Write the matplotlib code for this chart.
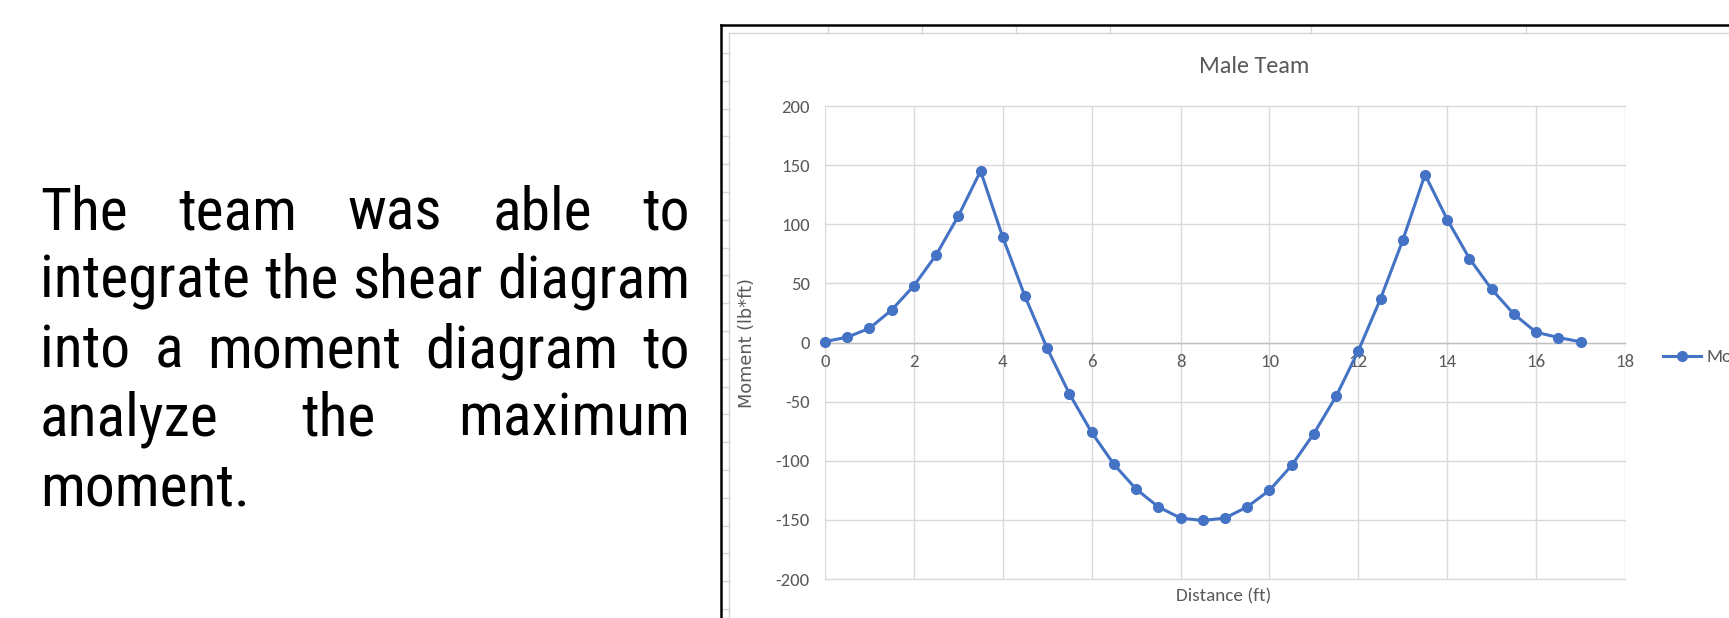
import os
import matplotlib
matplotlib.use("Agg")
import matplotlib.pyplot as plt
from matplotlib import font_manager
from matplotlib.font_manager import FontProperties
from matplotlib.lines import Line2D

# ---------------- data ----------------
distance_ft = [0, 0.5, 1, 1.5, 2, 2.5, 3, 3.5, 4, 4.5, 5, 5.5, 6, 6.5, 7, 7.5, 8, 8.5,
               9, 9.5, 10, 10.5, 11, 11.5, 12, 12.5, 13, 13.5, 14, 14.5, 15, 15.5, 16, 16.5, 17]
moment_lbft = [0.8, 4.5, 12, 27.5, 48, 74, 107, 145, 89, 39, -5, -43.5, -76, -103, -124,
               -139, -148.5, -150.5, -148.5, -139, -125, -104, -77, -45.5, -7, 37, 86.5,
               142, 104, 71, 45, 24, 8.7, 4.2, 0.6]
x_ticks = [0, 2, 4, 6, 8, 10, 12, 14, 16, 18]
y_ticks = [-200, -150, -100, -50, 0, 50, 100, 150, 200]
chart_title = "Male Team"
x_label = "Distance (ft)"
y_label = "Moment (lb*ft)"
series_name = "Moment"
paragraph_lines = ["The team was able to",
                   "integrate the shear diagram",
                   "into a moment diagram to",
                   "analyze the maximum",
                   "moment."]

plt.rcParams["axes.unicode_minus"] = False

# ---------------- fonts ----------------
names = {f.name for f in font_manager.fontManager.ttflist}
calib = "Carlito" if "Carlito" in names else ("Lato" if "Lato" in names else "DejaVu Sans")

BAD = ("bold", "italic", "light", "thin", "medium", "black", "oblique", "semibold",
       "extrabold", "heavy", "extralight")


def find_condensed():
    entries = font_manager.fontManager.ttflist
    prefs = [
        lambda f: f.name == "Liberation Sans Narrow",
        lambda f: f.name == "Arial Narrow",
        lambda f: f.name == "Roboto Condensed",
        lambda f: "robotocondensed" in os.path.basename(f.fname).lower(),
        lambda f: os.path.basename(f.fname).lower().startswith("notosans-condensed"),
        lambda f: os.path.basename(f.fname).lower().startswith("notosans-semicondensed"),
        lambda f: "dejavusanscondensed" in os.path.basename(f.fname).lower(),
    ]
    for p in prefs:
        for f in entries:
            base = os.path.basename(f.fname).lower()
            stem = base.rsplit(".", 1)[0]
            tail = stem.split("-")[-1] if "-" in stem else ""
            if any(b in tail for b in BAD) or f.weight not in (400, "normal", "regular"):
                continue
            if f.style != "normal":
                continue
            try:
                if p(f):
                    return FontProperties(fname=f.fname)
            except Exception:
                pass
    return FontProperties(family="Liberation Sans")


para_fp = find_condensed()

W, H = 1729, 618
fig = plt.figure(figsize=(W / 100, H / 100), dpi=100)
fig.patch.set_facecolor("white")


def px(x):
    return x / W


def py(y):
    return 1 - y / H


GREY_TXT = "#595959"

# ---------------- chart ----------------
L, R, T, B = 825, 1625, 106, 579
ax = fig.add_axes([px(L), py(B), (R - L) / W, (B - T) / H])
ax.set_xlim(x_ticks[0], x_ticks[-1])
ax.set_ylim(y_ticks[0], y_ticks[-1])
ax.set_xticks(x_ticks)
ax.set_yticks(y_ticks)
ax.grid(True, color="#D9D9D9", lw=1.0)
ax.set_axisbelow(True)
for g in ax.get_xgridlines() + ax.get_ygridlines():
    g.set_clip_on(False)
for s in ["top", "right", "left"]:
    ax.spines[s].set_visible(False)
ax.spines["bottom"].set_position(("data", 0))
ax.spines["bottom"].set_color("#BFBFBF")
ax.spines["bottom"].set_linewidth(1.0)
ax.tick_params(length=0, labelsize=13.5, labelcolor=GREY_TXT)
ax.tick_params(axis="x", pad=8.5)
ax.tick_params(axis="y", pad=11)
for lab in ax.get_xticklabels() + ax.get_yticklabels():
    lab.set_family(calib)

line, = ax.plot(distance_ft, moment_lbft, color="#4472C4", lw=2.2, marker="o",
                ms=7, label=series_name, zorder=3, clip_on=False)

fig.text(px(1254), py(73), chart_title, ha="center", va="baseline", fontsize=17.5,
         color=GREY_TXT, family=calib)
fig.text(px(1224), py(601), x_label, ha="center", va="baseline", fontsize=13.8,
         color=GREY_TXT, family=calib)
fig.text(px(747), py(342.5), y_label, ha="center", va="center", rotation=90,
         fontsize=12.8, color=GREY_TXT, family="DejaVu Sans")

fig.legend(handles=[line], labels=[series_name], loc="center left",
           bbox_to_anchor=(px(1663), py(357)), frameon=False, borderpad=0,
           borderaxespad=0, handlelength=2.0, handletextpad=0.3,
           prop={"family": calib, "size": 13.5}, labelcolor=GREY_TXT)

# ---------------- frame / sheet lines ----------------
sheet = "#D6D6D6"
fig.add_artist(Line2D([px(729), px(729)], [py(33), 0], color=sheet, lw=1.0))
fig.add_artist(Line2D([px(729), 1], [py(33), py(33)], color=sheet, lw=1.0))
for cx in [828, 922, 1016, 1110, 1311, 1526]:
    fig.add_artist(Line2D([px(cx), px(cx)], [py(25), py(33)], color=sheet, lw=1.0))
ry = 53.0
while ry < H:
    fig.add_artist(Line2D([px(721), px(729)], [py(ry), py(ry)], color=sheet, lw=1.0))
    ry += 27.8
fig.add_artist(Line2D([px(721), px(721)], [py(25), 0], color="black", lw=1.8))
fig.add_artist(Line2D([px(721), 1], [py(25), py(25)], color="black", lw=1.8))

# ---------------- justified paragraph ----------------
fig.canvas.draw()
rend = fig.canvas.get_renderer()


def make_fp(size):
    fp = para_fp.copy()
    fp.set_size(size)
    return fp


def text_w(s, size):
    t = fig.text(0, 0, s, fontproperties=make_fp(size))
    w = t.get_window_extent(rend).width
    t.remove()
    return w


X0, X1 = 40, 690
size = 43
w2 = text_w(paragraph_lines[1], size)
if w2 > (X1 - X0):
    size = size * (X1 - X0) / w2
baselines = [229, 298, 367, 436, 505]
for i, (ln, by) in enumerate(zip(paragraph_lines, baselines)):
    words = ln.split()
    if i == len(paragraph_lines) - 1 or len(words) == 1:
        fig.text(px(X0), py(by), ln, fontproperties=make_fp(size), va="baseline",
                 ha="left", color="black")
        continue
    ws = [text_w(w, size) for w in words]
    gap = ((X1 - X0) - sum(ws)) / (len(words) - 1)
    xc = X0
    for w, wd in zip(words, ws):
        fig.text(px(xc), py(by), w, fontproperties=make_fp(size), va="baseline",
                 ha="left", color="black")
        xc += wd + gap

fig.savefig("out.png", dpi=100, facecolor="white")
